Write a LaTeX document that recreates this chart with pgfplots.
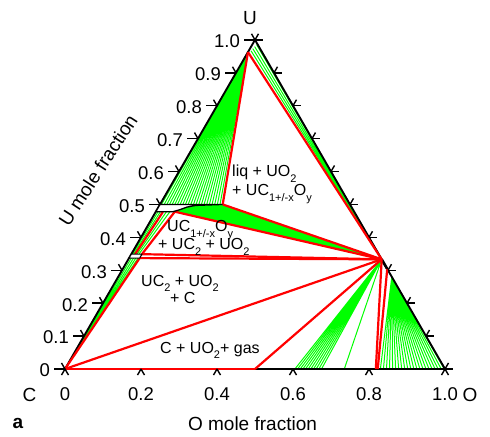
\documentclass[border=0pt]{standalone}
\usepackage{fontspec}
\setmainfont{Liberation Sans}
\usepackage{graphicx}
\usepackage{pgfplots}
\pgfplotsset{compat=1.18}
\usetikzlibrary{calc}
\definecolor{tgreen}{RGB}{0,255,0}
\definecolor{tred}{RGB}{255,0,0}
\pgfplotsset{
  table/tern/.style={/pgfplots/table/row sep=\\,
    /pgfplots/table/x expr={\thisrow{O}+0.5*\thisrow{U}},
    /pgfplots/table/y expr={0.8660254*\thisrow{U}}},
  gline/.style={tgreen, line width=1.0pt, no markers, line join=round},
  rline/.style={tred, line width=2.2pt, no markers, line join=round},
}
\newcommand\tickfont{\fontsize{18.5}{20}\selectfont}
\newcommand\labfont{\fontsize{19}{21}\selectfont}
\newcommand\regfont{\fontsize{16}{17}\selectfont}
\newcommand\sub[1]{\raisebox{-0.32em}{\fontsize{11}{11}\selectfont #1}}
\begin{document}
\begin{tikzpicture}[tick/.style={black, line width=1.4pt}]
\begin{axis}[scale only axis, width=490pt, height=436pt,
  xmin=-0.17105, xmax=1.11842, ymin=-0.17632, ymax=0.97105,
  hide axis, clip=false]
\path (rel axis cs:0,0) rectangle (rel axis cs:1,1);
\coordinate (C) at (axis cs:0,0);
\coordinate (Ov) at (axis cs:1,0);
\coordinate (Uv) at (axis cs:0.5,0.8660254);
\coordinate (P0) at (rel axis cs:0,1);
% green band UC1+-xOy + UO2
\addplot[fill=tgreen, draw=none] table[tern]{O U\\ 0.165 0.5\\ 0.6667 0.3333\\ 0.05 0.478\\ 0.06 0.484\\ 0.075 0.492\\ 0.095 0.497\\} -- cycle;
% fan: liquid (U corner) to UC1+-xOy
\addplot[gline] table[tern]{O U\\
0 0.96\\ 0.004 0.5\\ 0 0.96\\ 0.011 0.5\\ 0 0.96\\ 0.018 0.5\\ 0 0.96\\ 0.025 0.5\\
0 0.96\\ 0.032 0.5\\ 0 0.96\\ 0.039 0.5\\ 0 0.96\\ 0.046 0.5\\ 0 0.96\\ 0.053 0.5\\
0 0.96\\ 0.060 0.5\\ 0 0.96\\ 0.067 0.5\\ 0 0.96\\ 0.074 0.5\\ 0 0.96\\ 0.081 0.5\\
0 0.96\\ 0.088 0.5\\ 0 0.96\\ 0.095 0.5\\ 0 0.96\\ 0.102 0.5\\ 0 0.96\\ 0.109 0.5\\
0 0.96\\ 0.116 0.5\\ 0 0.96\\ 0.123 0.5\\ 0 0.96\\ 0.130 0.5\\ 0 0.96\\ 0.137 0.5\\
0 0.96\\ 0.144 0.5\\ 0 0.96\\ 0.151 0.5\\ 0 0.96\\ 0.158 0.5\\};
% fan: liquid near U to UO2
\addplot[gline] table[tern]{O U\\
0.6667 0.3333\\ 0.012 0.985\\ 0.6667 0.3333\\ 0.010 0.979\\ 0.6667 0.3333\\ 0.008 0.973\\ 0.6667 0.3333\\ 0.006 0.967\\};
% UC + UC2 tie lines
\addplot[gline] table[tern]{O U\\ 0.006 0.478\\ 0.003 0.349\\};
\addplot[gline] table[tern]{O U\\ 0.012 0.478\\ 0.006 0.349\\};
\addplot[gline] table[tern]{O U\\ 0.028 0.478\\ 0.015 0.349\\};
\addplot[gline] table[tern]{O U\\ 0.037 0.478\\ 0.020 0.349\\};
% C + UC2 tie lines
\addplot[gline] table[tern]{O U\\ 0 0\\ 0.006 0.34\\ 0 0\\ 0.012 0.34\\ 0 0\\ 0.018 0.34\\ 0 0\\ 0.024 0.34\\};
% UO2 + gas (CO/CO2)
\addplot[gline] table[tern]{O U\\
0.6667 0.3333\\ 0.605 0\\ 0.6667 0.3333\\ 0.612 0\\ 0.6667 0.3333\\ 0.619 0\\ 0.6667 0.3333\\ 0.626 0\\
0.6667 0.3333\\ 0.633 0\\ 0.6667 0.3333\\ 0.640 0\\ 0.6667 0.3333\\ 0.647 0\\ 0.6667 0.3333\\ 0.654 0\\
0.6667 0.3333\\ 0.661 0\\ 0.6667 0.3333\\ 0.668 0\\ 0.6667 0.3333\\ 0.675 0\\ 0.6667 0.3333\\ 0.735 0\\};
% UO2+x + gas (O rich)
\addplot[gline] table[tern]{O U\\
0.72 0.28\\ 0.830 0\\ 0.72 0.28\\ 0.838 0\\ 0.72 0.28\\ 0.846 0\\ 0.72 0.28\\ 0.854 0\\
0.72 0.28\\ 0.862 0\\ 0.72 0.28\\ 0.870 0\\ 0.72 0.28\\ 0.878 0\\ 0.72 0.28\\ 0.886 0\\
0.72 0.28\\ 0.894 0\\ 0.72 0.28\\ 0.902 0\\ 0.72 0.28\\ 0.910 0\\ 0.72 0.28\\ 0.918 0\\
0.72 0.28\\ 0.926 0\\ 0.72 0.28\\ 0.934 0\\ 0.72 0.28\\ 0.942 0\\ 0.72 0.28\\ 0.950 0\\
0.72 0.28\\ 0.958 0\\ 0.72 0.28\\ 0.966 0\\ 0.72 0.28\\ 0.974 0\\ 0.72 0.28\\ 0.982 0\\
0.72 0.28\\ 0.990 0\\ 0.72 0.28\\ 0.998 0\\};
% triangle edges
\addplot[black, line width=1.9pt, no markers] table[tern]{O U\\ 0 0\\ 1 0\\ 0 1\\} -- cycle;
\addplot[black, line width=2.8pt, no markers] table[tern]{O U\\ 0.5 0\\ 1 0\\};
\addplot[black, line width=2.6pt, no markers] table[tern]{O U\\ 0.6667 0.3333\\ 0.696 0.304\\};
% red phase boundaries
\addplot[rline] table[tern]{O U\\ 0 0.963\\ 0.165 0.5\\};
\addplot[rline] table[tern]{O U\\ 0 0.963\\ 0.6667 0.3333\\};
\addplot[rline] table[tern]{O U\\ 0.165 0.5\\ 0.6667 0.3333\\};
\addplot[rline] table[tern]{O U\\ 0.05 0.478\\ 0.6667 0.3333\\};
\addplot[rline] table[tern]{O U\\ 0.019 0.477\\ 0.010 0.349\\};
\addplot[rline] table[tern]{O U\\ 0.05 0.478\\ 0.028 0.349\\};
\addplot[rline] table[tern]{O U\\ 0.028 0.349\\ 0.6667 0.3333\\};
\addplot[rline] table[tern]{O U\\ 0.028 0.337\\ 0.6667 0.3333\\};
\addplot[rline] table[tern]{O U\\ 0 0\\ 0.028 0.337\\};
\addplot[rline] table[tern]{O U\\ 0 0\\ 0.6667 0.3333\\};
\addplot[rline] table[tern]{O U\\ 0 0\\ 0.5 0\\};
\addplot[rline] table[tern]{O U\\ 0.5 0\\ 0.6667 0.3333\\};
\addplot[rline] table[tern]{O U\\ 0.6667 0.3333\\ 0.818 0\\};
\addplot[rline] table[tern]{O U\\ 0.696 0.304\\ 0.823 0\\};
% single phase regions
\addplot[fill=white, draw=black, line width=1.3pt, no markers] table[tern]{O U\\ 0 0.5\\ 0.165 0.5\\ 0.095 0.497\\ 0.075 0.492\\ 0.06 0.484\\ 0.045 0.478\\ 0 0.478\\} -- cycle;
\addplot[fill=white, draw=black, line width=1.1pt, no markers] table[tern]{O U\\ 0 0.349\\ 0.028 0.349\\ 0.028 0.337\\ 0 0.337\\} -- cycle;
\end{axis}
% ticks
\foreach \i in {0,...,10}{
  \draw[tick] ($(C)!{\i/10}!(Uv)$) -- ++(-11pt,0);
  \draw[tick] ($(C)!{\i/10}!(Uv)$) -- ++(120:7pt);
  \draw[tick] ($(Ov)!{\i/10}!(Uv)$) -- ++(8pt,0);
  \draw[tick] ($(Ov)!{\i/10}!(Uv)$) -- ++(60:7pt);
}
\foreach \i in {0,...,5}{
  \draw[tick] ($(C)!{\i/5}!(Ov)$) -- ++(240:7pt);
  \draw[tick] ($(C)!{\i/5}!(Ov)$) -- ++(300:7pt);
}
\foreach \i/\l in {0/0,1/0.1,2/0.2,3/0.3,4/0.4,5/0.5,6/0.6,7/0.7,8/0.8,9/0.9,10/1.0}
  \node[anchor=east, inner sep=0pt, font=\tickfont, xshift=-15pt, yshift=-1.5pt] at ($(C)!{\i/10}!(Uv)$) {\l};
\foreach \i/\l in {0/0,1/0.2,2/0.4,3/0.6,4/0.8,5/1.0}
  \node[anchor=north, inner sep=0pt, font=\tickfont, yshift=-18pt] at ($(C)!{\i/5}!(Ov)$) {\l};
% axis names
\node[font=\labfont, inner sep=0pt] at ([xshift=250pt, yshift=-18pt]P0) {U};
\node[font=\labfont, inner sep=0pt] at ([xshift=29.5pt, yshift=-394.5pt]P0) {C};
\node[font=\labfont, inner sep=0pt] at ([xshift=470pt, yshift=-395pt]P0) {O};
\node[font=\labfont\bfseries, inner sep=0pt] at ([xshift=18pt, yshift=-423pt]P0) {a};
\node[font=\labfont, inner sep=0pt] at ([xshift=252.5pt, yshift=-423.5pt]P0) {O mole fraction};
\node[font=\labfont, inner sep=0pt, rotate=57] at ([xshift=98pt, yshift=-170pt]P0) {U mole fraction};
% region labels
\node[font=\regfont, inner sep=0pt, anchor=base west] at ([xshift=232pt, yshift=-177pt]P0) {liq + UO\sub{2}};
\node[font=\regfont, inner sep=0pt, anchor=base west] at ([xshift=232pt, yshift=-196pt]P0) {+ UC\sub{1+/-x}O\sub{y}};
\node[font=\regfont, inner sep=0pt, anchor=base west] at ([xshift=167pt, yshift=-232pt]P0) {UC\sub{1+/-x}O\sub{y}};
\node[font=\regfont, inner sep=0pt, anchor=base west] at ([xshift=158pt, yshift=-250pt]P0) {+ UC\sub{2} + UO\sub{2}};
\node[font=\regfont, inner sep=0pt, anchor=base west] at ([xshift=141pt, yshift=-286pt]P0) {UC\sub{2} + UO\sub{2}};
\node[font=\regfont, inner sep=0pt, anchor=base west] at ([xshift=170pt, yshift=-303pt]P0) {+ C};
\node[font=\regfont, inner sep=0pt, anchor=base west] at ([xshift=160pt, yshift=-353pt]P0) {C + UO\sub{2}+ gas};
\end{tikzpicture}
\end{document}
